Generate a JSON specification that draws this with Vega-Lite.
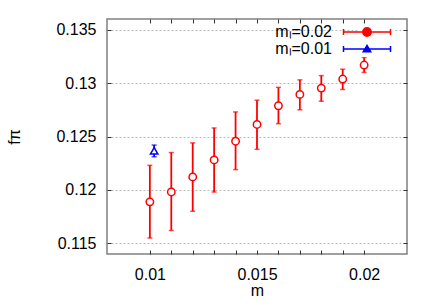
{
  "$schema": "https://vega.github.io/schema/vega-lite/v6.json",
  "width": 300,
  "height": 235,
  "autosize": {"type": "none"},
  "padding": {"left": 107, "top": 19, "right": 29, "bottom": 51},
  "config": {
    "font": "Liberation Sans",
    "view": {"stroke": "#808080", "strokeWidth": 1.5},
    "axis": {"labelFont": "Liberation Sans", "titleFont": "Liberation Sans", "labelFontSize": 16, "titleFontSize": 16, "titleFontWeight": "normal", "labelColor": "#000", "titleColor": "#000", "domain": false, "tickColor": "#333", "tickWidth": 1}
  },
  "data": {
    "values": [
      {"m": 0.010, "f": 0.11888, "lo": 0.1155, "hi": 0.1223, "series": "mₗ=0.02"},
      {"m": 0.011, "f": 0.11981, "lo": 0.1162, "hi": 0.1235, "series": "mₗ=0.02"},
      {"m": 0.012, "f": 0.12122, "lo": 0.1180, "hi": 0.1244, "series": "mₗ=0.02"},
      {"m": 0.013, "f": 0.12281, "lo": 0.1198, "hi": 0.1258, "series": "mₗ=0.02"},
      {"m": 0.014, "f": 0.12456, "lo": 0.1219, "hi": 0.1273, "series": "mₗ=0.02"},
      {"m": 0.015, "f": 0.12613, "lo": 0.1238, "hi": 0.1284, "series": "mₗ=0.02"},
      {"m": 0.016, "f": 0.12788, "lo": 0.1262, "hi": 0.1296, "series": "mₗ=0.02"},
      {"m": 0.017, "f": 0.12894, "lo": 0.1275, "hi": 0.1303, "series": "mₗ=0.02"},
      {"m": 0.018, "f": 0.12953, "lo": 0.1283, "hi": 0.1307, "series": "mₗ=0.02"},
      {"m": 0.019, "f": 0.13038, "lo": 0.1294, "hi": 0.1313, "series": "mₗ=0.02"},
      {"m": 0.020, "f": 0.13169, "lo": 0.1310, "hi": 0.1324, "series": "mₗ=0.02"},
      {"m": 0.0102, "f": 0.12366, "lo": 0.1231, "hi": 0.1242, "series": "mₗ=0.01"}
    ]
  },
  "resolve": {"axis": {"x": "independent", "y": "independent"}},
  "layer": [
    {
      "mark": {"type": "rule", "strokeWidth": 1.8},
      "encoding": {
        "x": {"field": "m", "type": "quantitative",
          "scale": {"domain": [0.008, 0.022], "nice": false, "zero": false},
          "axis": {"orient": "bottom", "title": "m", "grid": false,
            "values": [0.01, 0.011, 0.012, 0.013, 0.014, 0.015, 0.016, 0.017, 0.018, 0.019, 0.02],
            "format": "~g",
            "labelExpr": "abs(datum.value*200 - round(datum.value*200)) < 0.000001 ? datum.label : ''",
            "tickSize": -4, "labelPadding": 16, "titlePadding": 0}},
        "y": {"field": "lo", "type": "quantitative",
          "scale": {"domain": [0.114, 0.136], "nice": false, "zero": false},
          "axis": {"orient": "left", "title": "fπ", "grid": true, "gridColor": "#bbbbbb", "gridDash": [2, 2], "gridWidth": 1,
            "values": [0.115, 0.12, 0.125, 0.13, 0.135], "format": "~g",
            "tickSize": -4, "labelPadding": 15, "titlePadding": 33}},
        "y2": {"field": "hi"},
        "color": {"field": "series", "type": "nominal", "scale": {"domain": ["mₗ=0.02", "mₗ=0.01"], "range": ["#ff0000", "#0000ff"]},
          "legend": {"orient": "none", "legendX": 252, "legendY": 5, "title": null,
            "labelFont": "Liberation Sans", "labelFontSize": 16, "labelColor": "#000", "labelAlign": "right", "labelOffset": -43,
            "symbolSize": 64, "symbolStrokeWidth": 1.5, "symbolOpacity": 1, "symbolFillColor": "white", "rowPadding": 1, "padding": 0, "fillColor": "white",
            "symbolType": {"expr": "datum.value === 'mₗ=0.02' ? 'M-5.875,0H-1.05M1.05,0H5.875M-5.875,-0.75V0.75M5.875,-0.75V0.75M1.05,0A1.05,1.05,0,1,1,-1.05,0A1.05,1.05,0,1,1,1.05,0' : 'M-5.875,0H5.875M-5.875,-0.75V0.75M5.875,-0.75V0.75M0,-0.9L0.94,0.7L-0.94,0.7Z'"}}}
      }
    },
    {
      "mark": {"type": "tick", "orient": "horizontal", "size": 5, "thickness": 1.5},
      "encoding": {
        "x": {"field": "m", "type": "quantitative", "axis": null},
        "y": {"field": "lo", "type": "quantitative", "axis": null},
        "fill": {"field": "series", "type": "nominal", "scale": {"domain": ["mₗ=0.02", "mₗ=0.01"], "range": ["#ff0000", "#0000ff"]}, "legend": null}
      }
    },
    {
      "mark": {"type": "tick", "orient": "horizontal", "size": 5, "thickness": 1.5},
      "encoding": {
        "x": {"field": "m", "type": "quantitative", "axis": null},
        "y": {"field": "hi", "type": "quantitative", "axis": null},
        "fill": {"field": "series", "type": "nominal", "legend": null}
      }
    },
    {
      "transform": [{"filter": "datum.series === 'mₗ=0.02'"}],
      "mark": {"type": "point", "shape": "circle", "filled": false, "fill": "white", "fillOpacity": 1, "strokeWidth": 1.5, "size": 55, "opacity": 1},
      "encoding": {
        "x": {"field": "m", "type": "quantitative",
          "axis": {"orient": "top", "title": null, "labels": false, "grid": false,
            "values": [0.01, 0.011, 0.012, 0.013, 0.014, 0.015, 0.016, 0.017, 0.018, 0.019, 0.02], "tickSize": -4}},
        "y": {"field": "f", "type": "quantitative",
          "axis": {"orient": "right", "title": null, "labels": false, "grid": false,
            "values": [0.115, 0.12, 0.125, 0.13, 0.135], "tickSize": -4}},
        "color": {"field": "series", "type": "nominal"}
      }
    },
    {
      "transform": [{"filter": "datum.series === 'mₗ=0.01'"}],
      "mark": {"type": "point", "shape": "triangle-up", "filled": false, "fill": "white", "fillOpacity": 1, "strokeWidth": 1.5, "size": 55, "opacity": 1},
      "encoding": {
        "x": {"field": "m", "type": "quantitative", "axis": null},
        "y": {"field": "f", "type": "quantitative", "axis": null},
        "color": {"field": "series", "type": "nominal"}
      }
    }
  ]
}
